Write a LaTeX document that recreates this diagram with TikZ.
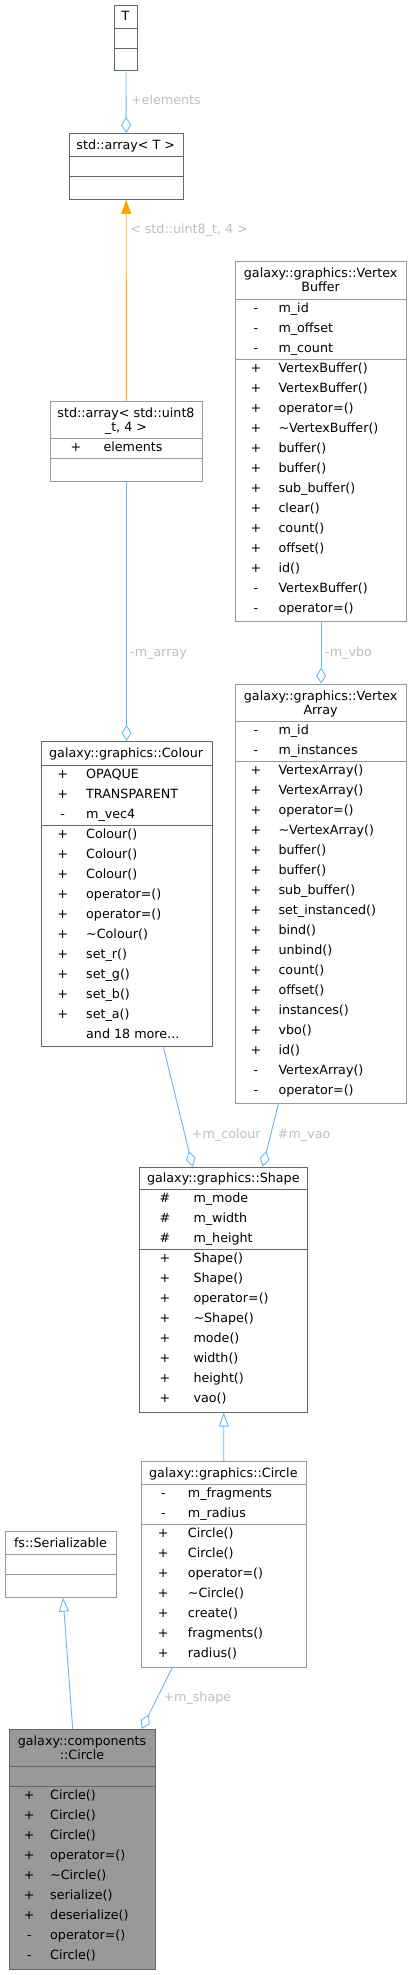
\documentclass[tikz,border=0pt]{standalone}
\usepackage{fontspec}
\setmainfont{DejaVu Sans}
\usetikzlibrary{arrows.meta}
\definecolor{dk}{HTML}{666666}
\definecolor{lt}{HTML}{999999}
\definecolor{cfill}{HTML}{999999}
\definecolor{edgeblue}{HTML}{63B8FF}
\definecolor{edgeorange}{HTML}{FFA500}
\definecolor{lblgray}{HTML}{BEBEBE}
\newcommand\dfont{\fontsize{12.7}{15}\selectfont}
% member row: #1 name, #2 vis x, #3 name x, #4 section top, #5 index, #6 vis, #7 text
\newcommand\mrow[7]{%
  \node[txt,anchor=base] (#1v) at (#2,#4+13+20*#5) {#6};
  \node[txt,anchor=base west] (#1n) at (#3,#4+13+20*#5) {#7};}
\begin{document}
\begin{tikzpicture}[x=1pt,y=-1pt,
  txt/.style={inner sep=0pt,font=\dfont,text=black},
  lbl/.style={inner sep=0pt,font=\dfont,text=lblgray,anchor=base west},
  boxd/.style={draw=dk,line width=0.9pt,fill=white,inner sep=0pt,anchor=north west},
  boxl/.style={draw=lt,line width=0.9pt,fill=white,inner sep=0pt,anchor=north west},
  boxc/.style={draw=dk,line width=0.9pt,fill=cfill,inner sep=0pt,anchor=north west},
  divd/.style={draw=dk,line width=0.9pt},
  divl/.style={draw=lt,line width=0.9pt},
  agg/.style={draw=edgeblue,line width=0.9pt,-{Diamond[open,length=16pt,width=10pt]}},
  inh/.style={draw=edgeblue,line width=0.9pt,-{Triangle[open,length=14pt,width=10pt]}},
  tmpl/.style={draw=edgeorange,line width=0.9pt,-{Triangle[length=14pt,width=10pt]}}]
\useasboundingbox[fill=white] (0,0) rectangle (411,1975);

% ---------- T ----------
\node[boxd,minimum width=23pt,minimum height=65.5pt] (T) at (114,5) {};
\draw[divd] (114,28.5) -- (137,28.5);
\draw[divd] (114,48.5) -- (137,48.5);
\node[txt,anchor=base] (Tt) at (125.5,21) {T};

% ---------- std::array<T> ----------
\node[boxd,minimum width=114.5pt,minimum height=66pt] (arrT) at (68.5,133) {};
\draw[divd] (68.5,156.5) -- (183,156.5);
\draw[divd] (68.5,176.5) -- (183,176.5);
\node[txt,anchor=base] (arrTt) at (125.75,149) {std::array< T >};

% ---------- std::array<std::uint8_t,4> ----------
\node[boxl,minimum width=152pt,minimum height=80pt] (arr8) at (50,401) {};
\draw[divl] (50,438.7) -- (202,438.7);
\draw[divl] (50,458.7) -- (202,458.7);
\node[txt,anchor=base] (arr8t1) at (126,417.5) {std::array< std::uint8};
\node[txt,anchor=base] (arr8t2) at (126,431.5) {\_t, 4 >};
\mrow{arr8a1}{76}{103.3}{438.7}{0}{+}{elements}

% ---------- VertexBuffer ----------
\node[boxl,minimum width=170.7pt,minimum height=360pt] (VB) at (235.3,261) {};
\draw[divl] (235.3,299) -- (406,299);
\draw[divl] (235.3,359.3) -- (406,359.3);
\node[txt,anchor=base] (VBt1) at (320.65,277.5) {galaxy::graphics::Vertex};
\node[txt,anchor=base] (VBt2) at (320.65,291.5) {Buffer};
\mrow{vba1}{256}{278.3}{299}{0}{-}{m\_id}
\mrow{vba2}{256}{278.3}{299}{1}{-}{m\_offset}
\mrow{vba3}{256}{278.3}{299}{2}{-}{m\_count}
\mrow{vbm1}{256}{278.3}{359.3}{0}{+}{VertexBuffer()}
\mrow{vbm2}{256}{278.3}{359.3}{1}{+}{VertexBuffer()}
\mrow{vbm3}{256}{278.3}{359.3}{2}{+}{operator=()}
\mrow{vbm4}{256}{278.3}{359.3}{3}{+}{\textasciitilde VertexBuffer()}
\mrow{vbm5}{256}{278.3}{359.3}{4}{+}{buffer()}
\mrow{vbm6}{256}{278.3}{359.3}{5}{+}{buffer()}
\mrow{vbm7}{256}{278.3}{359.3}{6}{+}{sub\_buffer()}
\mrow{vbm8}{256}{278.3}{359.3}{7}{+}{clear()}
\mrow{vbm9}{256}{278.3}{359.3}{8}{+}{count()}
\mrow{vbm10}{256}{278.3}{359.3}{9}{+}{offset()}
\mrow{vbm11}{256}{278.3}{359.3}{10}{+}{id()}
\mrow{vbm12}{256}{278.3}{359.3}{11}{-}{VertexBuffer()}
\mrow{vbm13}{256}{278.3}{359.3}{12}{-}{operator=()}

% ---------- VertexArray ----------
\node[boxl,minimum width=170.7pt,minimum height=419.6pt] (VA) at (235.3,683.7) {};
\draw[divl] (235.3,721.4) -- (406,721.4);
\draw[divl] (235.3,761.4) -- (406,761.4);
\node[txt,anchor=base] (VAt1) at (320.65,700.2) {galaxy::graphics::Vertex};
\node[txt,anchor=base] (VAt2) at (320.65,714.2) {Array};
\mrow{vaa1}{256}{278.3}{721.4}{0}{-}{m\_id}
\mrow{vaa2}{256}{278.3}{721.4}{1}{-}{m\_instances}
\mrow{vam1}{256}{278.3}{761.4}{0}{+}{VertexArray()}
\mrow{vam2}{256}{278.3}{761.4}{1}{+}{VertexArray()}
\mrow{vam3}{256}{278.3}{761.4}{2}{+}{operator=()}
\mrow{vam4}{256}{278.3}{761.4}{3}{+}{\textasciitilde VertexArray()}
\mrow{vam5}{256}{278.3}{761.4}{4}{+}{buffer()}
\mrow{vam6}{256}{278.3}{761.4}{5}{+}{buffer()}
\mrow{vam7}{256}{278.3}{761.4}{6}{+}{sub\_buffer()}
\mrow{vam8}{256}{278.3}{761.4}{7}{+}{set\_instanced()}
\mrow{vam9}{256}{278.3}{761.4}{8}{+}{bind()}
\mrow{vam10}{256}{278.3}{761.4}{9}{+}{unbind()}
\mrow{vam11}{256}{278.3}{761.4}{10}{+}{count()}
\mrow{vam12}{256}{278.3}{761.4}{11}{+}{offset()}
\mrow{vam13}{256}{278.3}{761.4}{12}{+}{instances()}
\mrow{vam14}{256}{278.3}{761.4}{13}{+}{vbo()}
\mrow{vam15}{256}{278.3}{761.4}{14}{+}{id()}
\mrow{vam16}{256}{278.3}{761.4}{15}{-}{VertexArray()}
\mrow{vam17}{256}{278.3}{761.4}{16}{-}{operator=()}

% ---------- Colour ----------
\node[boxd,minimum width=170.8pt,minimum height=304.7pt] (Col) at (40.7,741) {};
\draw[divd] (40.7,765) -- (211.5,765);
\draw[divd] (40.7,825) -- (211.5,825);
\node[txt,anchor=base] (Colt) at (126.1,757) {galaxy::graphics::Colour};
\mrow{ca1}{62.7}{86}{765}{0}{+}{OPAQUE}
\mrow{ca2}{62.7}{86}{765}{1}{+}{TRANSPARENT}
\mrow{ca3}{62.7}{86}{765}{2}{-}{m\_vec4}
\mrow{cm1}{62.7}{86}{825}{0}{+}{Colour()}
\mrow{cm2}{62.7}{86}{825}{1}{+}{Colour()}
\mrow{cm3}{62.7}{86}{825}{2}{+}{Colour()}
\mrow{cm4}{62.7}{86}{825}{3}{+}{operator=()}
\mrow{cm5}{62.7}{86}{825}{4}{+}{operator=()}
\mrow{cm6}{62.7}{86}{825}{5}{+}{\textasciitilde Colour()}
\mrow{cm7}{62.7}{86}{825}{6}{+}{set\_r()}
\mrow{cm8}{62.7}{86}{825}{7}{+}{set\_g()}
\mrow{cm9}{62.7}{86}{825}{8}{+}{set\_b()}
\mrow{cm10}{62.7}{86}{825}{9}{+}{set\_a()}
\node[txt,anchor=base west] (cmore) at (86,825+13+200) {and 18 more...};

% ---------- Shape ----------
\node[boxd,minimum width=168pt,minimum height=245pt] (Sh) at (139.3,1166.7) {};
\draw[divd] (139.3,1189.8) -- (307.3,1189.8);
\draw[divd] (139.3,1249.8) -- (307.3,1249.8);
\node[txt,anchor=base] (Sht) at (223.3,1182.7) {galaxy::graphics::Shape};
\mrow{sa1}{165}{193.3}{1189.8}{0}{\#}{m\_mode}
\mrow{sa2}{165}{193.3}{1189.8}{1}{\#}{m\_width}
\mrow{sa3}{165}{193.3}{1189.8}{2}{\#}{m\_height}
\mrow{sm1}{165}{193.3}{1249.8}{0}{+}{Shape()}
\mrow{sm2}{165}{193.3}{1249.8}{1}{+}{Shape()}
\mrow{sm3}{165}{193.3}{1249.8}{2}{+}{operator=()}
\mrow{sm4}{165}{193.3}{1249.8}{3}{+}{\textasciitilde Shape()}
\mrow{sm5}{165}{193.3}{1249.8}{4}{+}{mode()}
\mrow{sm6}{165}{193.3}{1249.8}{5}{+}{width()}
\mrow{sm7}{165}{193.3}{1249.8}{6}{+}{height()}
\mrow{sm8}{165}{193.3}{1249.8}{7}{+}{vao()}

% ---------- graphics::Circle ----------
\node[boxl,minimum width=165.3pt,minimum height=205.7pt] (gC) at (140.7,1461) {};
\draw[divl] (140.7,1484) -- (306,1484);
\draw[divl] (140.7,1524) -- (306,1524);
\node[txt,anchor=base] (gCt) at (223.35,1477) {galaxy::graphics::Circle};
\mrow{ga1}{163.3}{187.7}{1484}{0}{-}{m\_fragments}
\mrow{ga2}{163.3}{187.7}{1484}{1}{-}{m\_radius}
\mrow{gm1}{163.3}{187.7}{1524}{0}{+}{Circle()}
\mrow{gm2}{163.3}{187.7}{1524}{1}{+}{Circle()}
\mrow{gm3}{163.3}{187.7}{1524}{2}{+}{operator=()}
\mrow{gm4}{163.3}{187.7}{1524}{3}{+}{\textasciitilde Circle()}
\mrow{gm5}{163.3}{187.7}{1524}{4}{+}{create()}
\mrow{gm6}{163.3}{187.7}{1524}{5}{+}{fragments()}
\mrow{gm7}{163.3}{187.7}{1524}{6}{+}{radius()}

% ---------- fs::Serializable ----------
\node[boxl,minimum width=111pt,minimum height=65.7pt] (Ser) at (5,1531) {};
\draw[divl] (5,1554.7) -- (116,1554.7);
\draw[divl] (5,1574.7) -- (116,1574.7);
\node[txt,anchor=base] (Sert) at (60.5,1547) {fs::Serializable};

% ---------- components::Circle ----------
\node[boxc,minimum width=146pt,minimum height=240.3pt] (cC) at (9,1729) {};
\draw[divd] (9,1766.7) -- (155,1766.7);
\draw[divd] (9,1786.7) -- (155,1786.7);
\node[txt,anchor=base] (cCt1) at (82,1745.5) {galaxy::components};
\node[txt,anchor=base] (cCt2) at (82,1759.5) {::Circle};
\mrow{km1}{29.3}{50}{1786.7}{0}{+}{Circle()}
\mrow{km2}{29.3}{50}{1786.7}{1}{+}{Circle()}
\mrow{km3}{29.3}{50}{1786.7}{2}{+}{Circle()}
\mrow{km4}{29.3}{50}{1786.7}{3}{+}{operator=()}
\mrow{km5}{29.3}{50}{1786.7}{4}{+}{\textasciitilde Circle()}
\mrow{km6}{29.3}{50}{1786.7}{5}{+}{serialize()}
\mrow{km7}{29.3}{50}{1786.7}{6}{+}{deserialize()}
\mrow{km8}{29.3}{50}{1786.7}{7}{-}{operator=()}
\mrow{km9}{29.3}{50}{1786.7}{8}{-}{Circle()}

% ---------- connectors ----------
\draw[agg] (T.south) -- (arrT.north);
\node[lbl] (l1) at (131,104.5) {+elements};
\draw[tmpl] (arr8.north) -- (arrT.south);
\node[lbl] (l2) at (130,233.5) {< std::uint8\_t, 4 >};
\draw[agg] (VB.south) -- (VA.north);
\node[lbl] (l3) at (325,656) {-m\_vbo};
\draw[agg] (arr8.south) -- (Col.north);
\node[lbl] (l4) at (130,656) {-m\_array};
\draw[agg] ([xshift=122.6pt]Col.south west) -- ([xshift=53.4pt]Sh.north west);
\node[lbl] (l5) at (191.7,1138.5) {+m\_colour};
\draw[agg] ([xshift=43pt]VA.south west) -- ([xshift=123.4pt]Sh.north west);
\node[lbl] (l6) at (277.7,1138.5) {\#m\_vao};
\draw[inh] (gC.north) -- (Sh.south);
\draw[inh] ([xshift=63.7pt]cC.north west) -- ([xshift=58pt]Ser.south west);
\draw[agg] ([xshift=31.6pt]gC.south west) -- ([xshift=132.7pt]cC.north west);
\node[lbl] (l7) at (163.3,1701) {+m\_shape};
\end{tikzpicture}
\end{document}
